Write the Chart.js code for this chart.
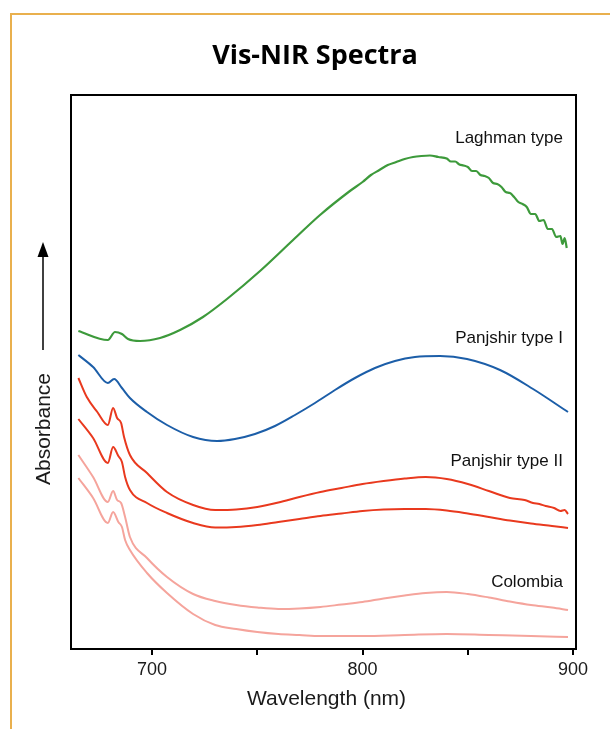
<!DOCTYPE html>
<html>
<head>
    <title>Vis-NIR Spectra</title>
    <script src="https://cdn.jsdelivr.net/npm/chart.js@4.4.1/dist/chart.umd.min.js"></script>
    <style>
        body {
            margin: 0;
            background-color: white;
        }
        .frame {
            position: absolute;
            left: 10px;
            top: 13px;
            right: 0;
            bottom: 0;
            border-top: 2px solid #e9b04e;
            border-left: 2px solid #e9b04e;
        }
        canvas {
            position: absolute;
            left: 0;
            top: 0;
        }
    </style>
</head>
<body>
    <div class="frame"></div>
    <canvas id="spectra" width="610" height="729"></canvas>

    <script>
        const chartTitle = 'Vis-NIR Spectra';
        const xTitle = 'Wavelength (nm)';
        const yTitle = 'Absorbance';

        const xTickValues = [700, 750, 800, 850, 900];
        const xTickLabels = ['700', '', '800', '', '900'];

        const seriesLabels = ['Laghman type', 'Panjshir type I', 'Panjshir type II', 'Colombia'];
        const labelAnchors = [5.07, 3.07, 1.84, 0.63];

        // Laghman type (green), noisy above ~840 nm
        const laghmanNm = [665, 679, 682.4, 685.7, 688.6, 694.3, 703.8, 713.3, 724.2, 735.6, 751.3, 767, 779.8, 794,
            800, 804, 808, 812, 816, 820, 824, 828, 832, 836,
            840, 842, 844, 846, 848, 850, 852, 854, 856, 858, 860, 862, 864, 866, 868, 870, 872, 874, 876, 878, 880,
            882, 884, 886, 888, 890, 892, 894, 895, 896, 897];
        const laghmanAbs = [3.19, 3.10, 3.18, 3.16, 3.11, 3.09, 3.12, 3.20, 3.33, 3.51, 3.79, 4.10, 4.35, 4.59,
            4.68, 4.75, 4.80, 4.85, 4.88, 4.91, 4.93, 4.94, 4.945, 4.93,
            4.915, 4.885, 4.885, 4.855, 4.845, 4.83, 4.79, 4.79, 4.75, 4.74, 4.72, 4.67, 4.66, 4.63, 4.58, 4.57, 4.53, 4.48, 4.46, 4.43, 4.36,
            4.36, 4.29, 4.30, 4.21, 4.21, 4.13, 4.14, 4.06, 4.12, 4.02];

        // Panjshir type I (blue)
        const panjshir1Nm = [665, 672, 679, 682, 685.7, 689.5, 697.6, 707.1, 719.5, 730.9, 739.4, 748.9, 758.4, 767.9,
            777.4, 786.9, 796.4, 805.9, 815.4, 824.9, 836.8, 849.6, 865.3, 881, 897.6];
        const panjshir1Abs = [2.95, 2.83, 2.67, 2.71, 2.62, 2.52, 2.38, 2.25, 2.13, 2.09, 2.11, 2.16, 2.24, 2.35,
            2.47, 2.60, 2.72, 2.82, 2.89, 2.93, 2.94, 2.91, 2.80, 2.61, 2.38];

        // Panjshir type II, two samples (red)
        const panjshir2aNm = [665, 669, 674, 679, 681.5, 683.4, 685.3, 686.7, 689.5, 697.6, 707.1, 719.5, 730, 740,
            750, 760, 770, 780, 790, 800, 810, 820, 830, 840, 850, 860, 870, 877, 881, 884, 887, 891, 894, 896, 897.6];
        const panjshir2aAbs = [2.72, 2.53, 2.38, 2.25, 2.42, 2.32, 2.27, 2.13, 1.95, 1.77, 1.58, 1.45, 1.40, 1.405,
            1.43, 1.475, 1.53, 1.58, 1.62, 1.66, 1.69, 1.715, 1.73, 1.71, 1.66, 1.59, 1.52, 1.50, 1.47, 1.46, 1.44, 1.42, 1.39, 1.40, 1.36];

        const panjshir2bNm = [665, 672, 679, 681.5, 684, 685.7, 687.2, 689.5, 697.6, 707.1, 719.5, 730, 740, 750, 760,
            770, 780, 790, 800, 810, 820, 830, 840, 850, 860, 870, 880, 890, 897.6];
        const panjshir2bAbs = [2.31, 2.12, 1.87, 2.03, 1.94, 1.88, 1.73, 1.60, 1.47, 1.37, 1.27, 1.225, 1.23, 1.25, 1.28,
            1.31, 1.34, 1.365, 1.39, 1.405, 1.41, 1.41, 1.395, 1.365, 1.33, 1.295, 1.265, 1.24, 1.22];

        // Colombia, two samples (pink)
        const colombiaANm = [665, 672, 679, 681.5, 683.4, 685.3, 687.2, 689.5, 697.6, 707.1, 719.5, 730, 740, 750,
            760, 770, 780, 790, 800, 810, 820, 830, 840, 850, 860, 870, 880, 890, 897.6];
        const colombiaAAbs = [1.95, 1.73, 1.48, 1.59, 1.50, 1.47, 1.33, 1.13, 0.92, 0.73, 0.56, 0.49, 0.45, 0.425,
            0.41, 0.415, 0.43, 0.455, 0.48, 0.515, 0.545, 0.57, 0.58, 0.56, 0.525, 0.485, 0.45, 0.425, 0.40];

        const colombiaBNm = [665, 672, 679, 681.5, 684, 685.7, 687.2, 689.5, 697.6, 707.1, 719.5, 730, 740, 750, 760,
            770, 780, 800, 820, 840, 860, 880, 897.6];
        const colombiaBAbs = [1.72, 1.52, 1.27, 1.38, 1.28, 1.23, 1.10, 1.00, 0.77, 0.57, 0.36, 0.25, 0.21, 0.18, 0.16,
            0.15, 0.14, 0.14, 0.15, 0.16, 0.15, 0.14, 0.13];

        function toPoints(xs, ys) {
            return xs.map((x, i) => ({ x: x, y: ys[i] }));
        }

        function line(xs, ys, color, width) {
            return {
                data: toPoints(xs, ys),
                borderColor: color,
                borderWidth: width,
                pointRadius: 0,
                fill: false,
                cubicInterpolationMode: 'monotone'
            };
        }

        // frame, titles, arrow and series names
        const decor = {
            id: 'decor',
            afterDraw(chart) {
                const { ctx, chartArea: a, scales: { x, y } } = chart;
                ctx.save();

                ctx.strokeStyle = '#000';
                ctx.lineWidth = 2;
                ctx.strokeRect(a.left, a.top, a.right - a.left, a.bottom - a.top);

                ctx.fillStyle = '#000';
                ctx.font = 'bold 27px "Open Sans"';
                ctx.textAlign = 'center';
                ctx.textBaseline = 'alphabetic';
                ctx.fillText(chartTitle, 315, 64);

                ctx.fillStyle = '#1a1a1a';
                ctx.font = '21px "Liberation Sans"';
                ctx.fillText(xTitle, (a.left + a.right) / 2 + 3, 705);

                // y title, rotated
                ctx.save();
                ctx.translate(50, 429);
                ctx.rotate(-Math.PI / 2);
                ctx.textAlign = 'center';
                ctx.fillText(yTitle, 0, 0);
                ctx.restore();

                // arrow
                ctx.strokeStyle = '#000';
                ctx.lineWidth = 1.5;
                ctx.beginPath();
                ctx.moveTo(43, 350);
                ctx.lineTo(43, 254);
                ctx.stroke();
                ctx.fillStyle = '#000';
                ctx.beginPath();
                ctx.moveTo(43, 242);
                ctx.lineTo(37.5, 257);
                ctx.lineTo(48.5, 257);
                ctx.closePath();
                ctx.fill();

                ctx.fillStyle = '#111';
                ctx.font = '17px "Liberation Sans"';
                ctx.textAlign = 'right';
                const lx = x.getPixelForValue(895.2);
                seriesLabels.forEach((name, i) => {
                    ctx.fillText(name, lx, y.getPixelForValue(labelAnchors[i]));
                });

                ctx.restore();
            }
        };

        new Chart(document.getElementById('spectra'), {
            type: 'line',
            data: {
                datasets: [
                    line(laghmanNm, laghmanAbs, '#3d9a3b', 2.2),
                    line(panjshir1Nm, panjshir1Abs, '#1c5ea8', 2),
                    line(panjshir2aNm, panjshir2aAbs, '#e9391e', 2),
                    line(panjshir2bNm, panjshir2bAbs, '#e9391e', 2),
                    line(colombiaANm, colombiaAAbs, '#f5a49c', 2),
                    line(colombiaBNm, colombiaBAbs, '#f5a49c', 2)
                ]
            },
            options: {
                responsive: false,
                animation: false,
                layout: {
                    padding: { left: 71, right: 34, top: 95, bottom: 40 }
                },
                plugins: {
                    legend: { display: false },
                    tooltip: { enabled: false }
                },
                scales: {
                    x: {
                        type: 'linear',
                        min: 661.5,
                        max: 901.4,
                        afterBuildTicks: scale => {
                            scale.ticks = xTickValues.map(v => ({ value: v }));
                        },
                        afterFit: scale => {
                            scale.height = 40;
                        },
                        ticks: {
                            padding: 4,
                            color: '#1a1a1a',
                            font: { family: 'Liberation Sans', size: 18 },
                            callback: (value, index) => xTickLabels[index]
                        },
                        grid: {
                            display: true,
                            drawOnChartArea: false,
                            drawTicks: true,
                            tickLength: 6,
                            color: '#000',
                            lineWidth: 2
                        },
                        border: { display: false }
                    },
                    y: {
                        display: false,
                        min: 0.01,
                        max: 5.55
                    }
                }
            },
            plugins: [decor]
        });
    </script>
</body>
</html>
